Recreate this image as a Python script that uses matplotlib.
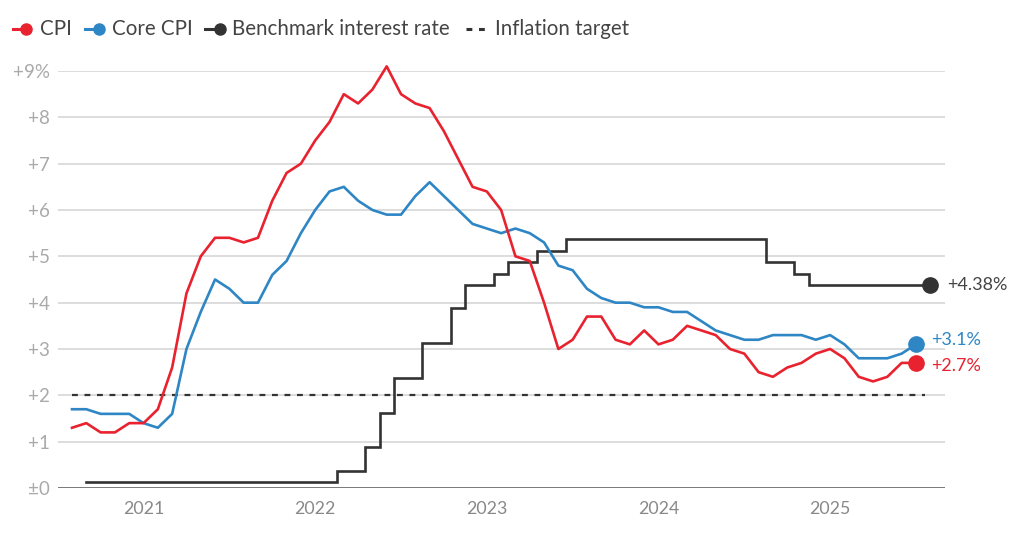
import numpy as np
import pandas as pd
import matplotlib
matplotlib.use("Agg")
import matplotlib.pyplot as plt
from matplotlib.lines import Line2D

plt.rcParams['font.family'] = ['Lato', 'DejaVu Sans']
plt.rcParams['lines.scale_dashes'] = False

# ---- data ----
cpi_start = "2020-08"
cpi = [1.3, 1.4, 1.2, 1.2, 1.4,
       1.4, 1.7, 2.6, 4.2, 5.0, 5.4, 5.4, 5.3, 5.4, 6.2, 6.8, 7.0,
       7.5, 7.9, 8.5, 8.3, 8.6, 9.1, 8.5, 8.3, 8.2, 7.7, 7.1, 6.5,
       6.4, 6.0, 5.0, 4.9, 4.0, 3.0, 3.2, 3.7, 3.7, 3.2, 3.1, 3.4,
       3.1, 3.2, 3.5, 3.4, 3.3, 3.0, 2.9, 2.5, 2.4, 2.6, 2.7, 2.9,
       3.0, 2.8, 2.4, 2.3, 2.4, 2.7, 2.7]
core_cpi = [1.7, 1.7, 1.6, 1.6, 1.6,
            1.4, 1.3, 1.6, 3.0, 3.8, 4.5, 4.3, 4.0, 4.0, 4.6, 4.9, 5.5,
            6.0, 6.4, 6.5, 6.2, 6.0, 5.9, 5.9, 6.3, 6.6, 6.3, 6.0, 5.7,
            5.6, 5.5, 5.6, 5.5, 5.3, 4.8, 4.7, 4.3, 4.1, 4.0, 4.0, 3.9,
            3.9, 3.8, 3.8, 3.6, 3.4, 3.3, 3.2, 3.2, 3.3, 3.3, 3.3, 3.2,
            3.3, 3.1, 2.8, 2.8, 2.8, 2.9, 3.1]
rate_start = "2020-09"
rate = [0.125] * 18 + \
       [0.375, 0.375, 0.875, 1.625, 2.375, 2.375, 3.125, 3.125, 3.875, 4.375] + \
       [4.375, 4.625, 4.875, 4.875, 5.125, 5.125, 5.375, 5.375, 5.375, 5.375, 5.375, 5.375] + \
       [5.375] * 8 + [4.875, 4.875, 4.625, 4.375] + \
       [4.375] * 8
inflation_target = 2.0
years = [2021, 2022, 2023, 2024, 2025]
y_ticks = [0, 1, 2, 3, 4, 5, 6, 7, 8, 9]
y_tick_labels = ["±0", "+1", "+2", "+3", "+4", "+5", "+6", "+7", "+8", "+9%"]
end_labels = {"cpi": "+2.7%", "core": "+3.1%", "rate": "+4.38%"}

# ---- positions (months since Aug 2020) ----
base = pd.Period("2020-08", freq="M")
cpi_x = np.array([(p - base).n for p in pd.period_range(cpi_start, periods=len(cpi), freq="M")])
rate_x = np.array([(p - base).n for p in pd.period_range(rate_start, periods=len(rate), freq="M")])
year_x = [(pd.Period(f"{y}-01", freq="M") - base).n for y in years]

RED = "#e8222f"
BLUE = "#2e86c4"
DARK = "#333333"
GRID = "#d3d3d3"

W, H = 1023, 540
fig = plt.figure(figsize=(W / 100, H / 100), dpi=100)
ax = fig.add_axes([58 / W, 1 - 488 / H, (945 - 58) / W, (488 - 71) / H])

for v in y_ticks[1:]:
    ax.axhline(v, color=GRID, lw=1.1, zorder=1)
ax.axhline(0, color="#555555", lw=1.1, zorder=2)

ax.plot([cpi_x[0], rate_x[-1] - 0.4], [inflation_target] * 2, color=DARK, lw=1.6,
        dashes=(4.2, 4.8), zorder=3)
ax.step(rate_x, rate, where="mid", color=DARK, lw=1.9, zorder=4,
        solid_joinstyle="miter", clip_on=False)
ax.plot(cpi_x, core_cpi, color=BLUE, lw=1.9, zorder=5, clip_on=False)
ax.plot(cpi_x, cpi, color=RED, lw=1.9, zorder=6, clip_on=False)

ax.plot(rate_x[-1], rate[-1], "o", color=DARK, ms=11, zorder=7, clip_on=False)
ax.plot(cpi_x[-1], core_cpi[-1], "o", color=BLUE, ms=11, zorder=7, clip_on=False)
ax.plot(cpi_x[-1], cpi[-1], "o", color=RED, ms=11, zorder=8, clip_on=False)

ax.annotate(end_labels["rate"], (rate_x[-1], rate[-1]), xytext=(12, 0),
            textcoords="offset points", va="center", ha="left", color="#444444", fontsize=13)
ax.annotate(end_labels["core"], (cpi_x[-1], core_cpi[-1]), xytext=(11, 3),
            textcoords="offset points", va="center", ha="left", color=BLUE, fontsize=13)
ax.annotate(end_labels["cpi"], (cpi_x[-1], cpi[-1]), xytext=(11, -2),
            textcoords="offset points", va="center", ha="left", color=RED, fontsize=13)

ax.set_xlim(-0.98, 61.03)
ax.set_ylim(0, 9)
ax.set_yticks(y_ticks)
ax.set_yticklabels(y_tick_labels)
ax.set_xticks(year_x)
ax.set_xticklabels([str(y) for y in years])
ax.tick_params(axis="y", length=0, pad=6, labelsize=13.5, labelcolor="#aaaaaa")
ax.tick_params(axis="x", length=0, pad=9, labelsize=12.8, labelcolor="#888888")
for s in ax.spines.values():
    s.set_visible(False)

# ---- legend (manual) ----
ly = 1 - 29 / H
def fx(px):
    return px / W
items = [(12.5, 26, 39.6, RED, "CPI"), (84.6, 98.8, 111.7, BLUE, "Core CPI"),
         (205, 219.6, 232.5, DARK, "Benchmark interest rate")]
for x0, xd, xt, c, t in items:
    fig.add_artist(Line2D([fx(x0), fx(xd)], [ly, ly], color=c, lw=2.2, transform=fig.transFigure))
    fig.add_artist(Line2D([fx(xd)], [ly], color=c, marker="o", ms=8, transform=fig.transFigure))
    fig.text(fx(xt), ly, t, va="center", ha="left", fontsize=14.8, color="#444444")
fig.add_artist(Line2D([fx(465.8), fx(486)], [ly, ly], color=DARK, lw=2.2,
                      dashes=(4.2, 4.8), transform=fig.transFigure))
fig.text(fx(494.6), ly, "Inflation target", va="center", ha="left", fontsize=14.8, color="#444444")

fig.savefig("out.png", dpi=100)
